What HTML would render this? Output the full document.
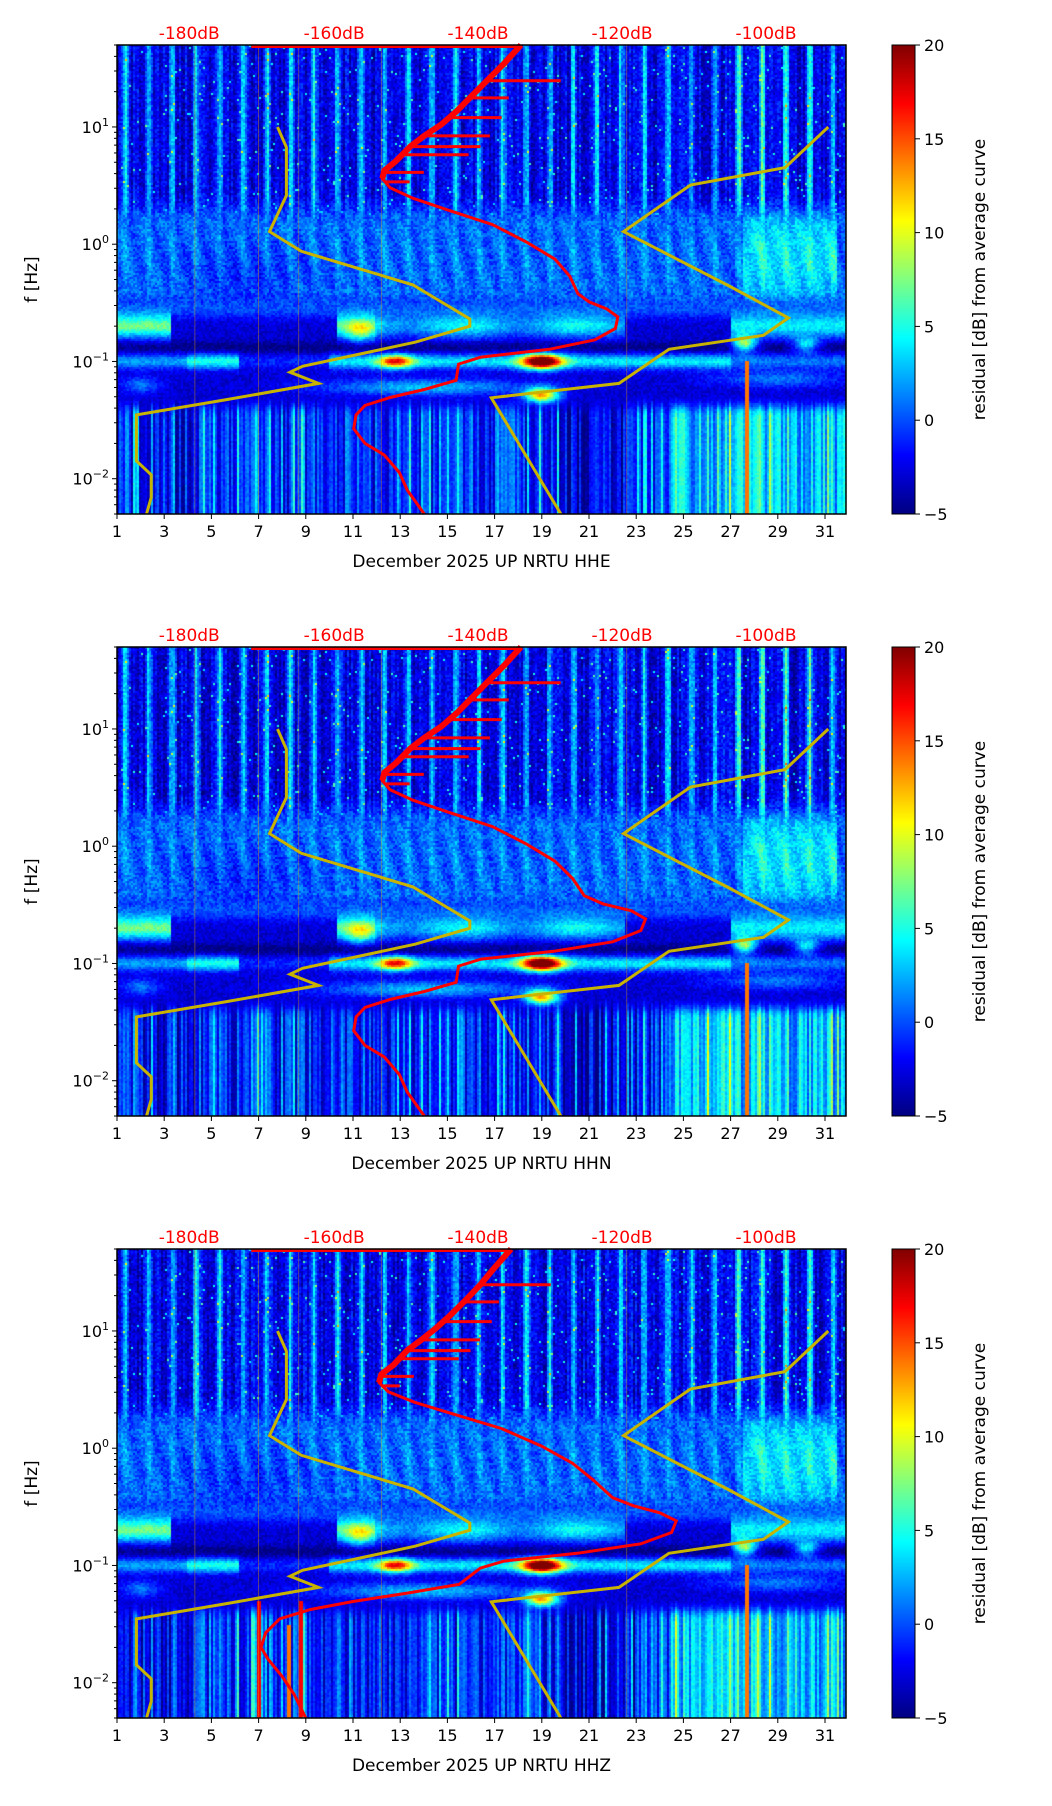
<!DOCTYPE html>
<html><head><meta charset="utf-8"><style>
body{margin:0;background:#fff;width:1052px;height:1806px;position:relative;overflow:hidden;font-family:"DejaVu Sans","Liberation Sans",sans-serif}
canvas{position:absolute}
svg{position:absolute;left:0;top:0;font-family:"DejaVu Sans","Liberation Sans",sans-serif}
</style></head><body>
<canvas id="c0" width="729" height="469" style="left:117px;top:45px"></canvas>
<canvas id="c1" width="729" height="469" style="left:117px;top:647px"></canvas>
<canvas id="c2" width="729" height="469" style="left:117px;top:1249px"></canvas>
<svg id="ov" width="1052" height="1806"></svg>
<script>
// ---- data ----
const channels = ["HHE","HHN","HHZ"];
const xTicks = [1,3,5,7,9,11,13,15,17,19,21,23,25,27,29,31];
const yTicksExp = [-2,-1,0,1];
const cbTicks = [-5,0,5,10,15,20];
const dbLabels = ["-180dB","-160dB","-140dB","-120dB","-100dB"];
const dbLabelDays = [4.06,10.2,16.3,22.4,28.5];
const yellowLeftDay = [7.80,8.18,8.18,7.46,8.81,13.54,15.95,15.95,13.63,8.86,8.33,9.54,5.58,1.82,1.82,1.82,2.45,2.45,2.25];
const yellowLeftF = [10,6.7,2.6,1.28,0.87,0.45,0.23,0.20,0.146,0.091,0.081,0.065,0.047,0.035,0.022,0.0142,0.0108,0.0069,0.005];
const yellowRightDay = [31.14,29.31,25.30,22.46,26.94,29.45,28.39,24.39,22.27,16.86,19.81];
const yellowRightF = [10,4.5,3.2,1.28,0.44,0.235,0.167,0.127,0.065,0.049,0.005];
const redF = [50,34.7,24.8,17.7,13.5,10.5,8.4,6.84,5.09,4.26,3.63,3.03,2.47,1.97,1.47,1.04,0.745,0.531,0.378,0.322,0.281,0.240,0.191,0.153,0.127,0.109,0.095,0.069,0.0577,0.0493,0.0421,0.0351,0.0267,0.0200,0.0159,0.0113,0.0080,0.005];
const redDayHHE = [18.12,17.4,16.67,15.95,15.37,14.74,14.02,13.44,12.81,12.33,12.24,12.57,13.54,14.98,16.91,18.36,19.56,20.19,20.53,21.01,21.74,22.22,22.12,21.25,19.32,16.43,15.47,15.37,14.02,12.57,11.51,11.13,11.03,11.51,12.33,12.96,13.3,14.02];
const redDayHHN = [18.12,17.4,16.67,15.95,15.37,14.74,14.02,13.44,12.81,12.33,12.24,12.57,13.54,14.98,16.91,18.36,19.56,20.3,20.8,21.6,22.8,23.4,23.2,22.0,19.5,16.43,15.47,15.37,14.02,12.57,11.51,11.13,11.03,11.51,12.33,12.96,13.3,14.02];
const redDayHHZ = [17.7,17.0,16.4,15.7,15.1,14.5,13.9,13.3,12.7,12.2,12.1,12.5,13.6,15.2,17.3,19.0,20.3,21.2,22.0,22.9,24.0,24.7,24.5,23.2,20.5,17.4,16.4,15.5,13.2,11.0,9.2,7.9,7.3,7.1,7.4,8.0,8.5,9.0];
const redSpikeF = [24.8,17.7,12.0,8.4,6.8,5.8,4.1,3.4];
const redSpikeEnd = [19.8,17.6,17.3,16.8,16.4,15.9,14.0,13.4];

// ---- axes ----
const L=117,W=729,H=469,tops=[45,647,1249];
const PPD=23.6;
const D0=1,D1=1+W/PPD, LF0=Math.log10(0.005), LF1=Math.log10(50);
const xs=d=>L+(d-D0)/(D1-D0)*W;
const ys=(f,T)=>T+H-(Math.log10(f)-LF0)/(LF1-LF0)*H;

// ---- spectrogram texture ----
function h(a,b){let x=Math.sin(a*127.1+b*311.7)*43758.5453;return x-Math.floor(x);}
function g(x,c,s){return Math.exp(-((x-c)*(x-c))/(2*s*s));}
function blob(d,l,cd,cl,sd,sl){return g(d,cd,sd)*g(l,cl,sl);}
function ss(x,a,b){let t=Math.max(0,Math.min(1,(x-a)/(b-a)));return t*t*(3-2*t);}
function field(d,l,col,row,p){
  const colN=h(col,7+p), colN2=h(col*3.1,2), rn=h(col,row);
  const dayStripe=Math.pow(Math.max(0,Math.cos(2*Math.PI*(d-0.35))),3);
  let hf=-2.5+dayStripe*6+(colN-0.5)*3+(rn-0.5)*3+(rn>0.985?6:0)+(d>27&&d<31?dayStripe*3:0);
  let mf=0.5+(rn-0.5)*3+dayStripe*1.5+Math.sin(d*6.3+l*9)*0.8+(d>27.5&&d<31.5?3.5*g(l,-0.1,0.3):0)-1.5*g(d,6.5,2)*g(l,-0.3,0.2);
  let bv=-3+(rn-0.5)*2;
  const b1=g(l,-0.70,0.07);
  let a1=4;
  if(d<3.3)a1=8; else if(d<10.3)a1=-2; else if(d<11.9)a1=7; else if(d<22.5)a1=4+1.5*Math.sin(d*1.3); else if(d<27)a1=-2; else a1=5;
  bv+=b1*(a1+2)+g(l,-0.55,0.06)*3;
  bv+=g(l,-0.88,0.035)*-2;
  const b2=g(l,-1.0,0.045);
  let a2=3;
  if(d<4)a2=3; else if(d<6.2)a2=6; else if(d<10)a2=0; else if(d<27)a2=5; else a2=2;
  bv+=b2*(a2+2);
  bv+=blob(d,l,12.8,-1.0,0.5,0.04)*14+blob(d,l,19.0,-1.0,0.6,0.045)*22+blob(d,l,27.6,-0.85,0.35,0.05)*12+blob(d,l,30.2,-0.86,0.4,0.045)*8+blob(d,l,11.3,-0.74,0.4,0.07)*6;
  bv+=blob(d,l,19.0,-1.3,0.5,0.05)*18+blob(d,l,14,-1.22,3,0.05)*6+blob(d,l,2,-1.2,0.6,0.05)*4+blob(d,l,29,-1.15,2,0.05)*4;
  let lf=-4+colN*6+(colN2>0.85?4:0)+(d>24.5?4:0)-(d>1.5&&d<4.5?1:0)+(rn-0.5)*1.5-(d>19.8&&d<23?2:0);
  lf=lf*ss(-l,1.2,1.5)+(-3)*(1-ss(-l,1.2,1.5));
  const wH=ss(l,0.15,0.45), wL=1-ss(l,-1.45,-1.25), wB=(1-ss(l,-0.6,-0.4))*(1-wL);
  const wM=Math.max(0,1-wH-wB-wL);
  let v=hf*wH+mf*wM+bv*wB+lf*wL;
  if(Math.abs(d-27.7)<0.06 && l<-1.0)v=14;
  if(p===2 && ((Math.abs(d-7.0)<0.06)||(Math.abs(d-8.8)<0.12)) && l<-1.3)v=17;
  if(p===2 && Math.abs(d-8.3)<0.1 && l<-1.5)v=14;
  return v;
}
function jet(t){t=Math.max(0,Math.min(1,t));const c=x=>Math.max(0,Math.min(1,x));
  return [c(1.5-Math.abs(4*t-3))*255,c(1.5-Math.abs(4*t-2))*255,c(1.5-Math.abs(4*t-1))*255];}
for(let p=0;p<3;p++){
  const cv=document.getElementById('c'+p),ctx=cv.getContext('2d');
  const img=ctx.createImageData(W,H);
  const cw=2,rh=2;
  for(let col=0;col<W/cw;col++){
    const d=D0+(col*cw+1)/W*(D1-D0);
    for(let row=0;row<H/rh;row++){
      const l=LF1-(row*rh+1)/H*(LF1-LF0);
      const v=field(d,l,col,row,p);
      const c=jet((v+5)/25);
      for(let dx=0;dx<cw;dx++)for(let dy=0;dy<rh;dy++){
        const x=col*cw+dx,y=row*rh+dy; if(x>=W||y>=H)continue;
        const i=(y*W+x)*4; img.data[i]=c[0];img.data[i+1]=c[1];img.data[i+2]=c[2];img.data[i+3]=255;}
    }
  }
  ctx.putImageData(img,0,0);
}

// ---- overlay ----
const NS='http://www.w3.org/2000/svg',svg=document.getElementById('ov');
function el(tag,attrs,parent,text){const e=document.createElementNS(NS,tag);for(const k in attrs)e.setAttribute(k,attrs[k]);if(text!==undefined)e.textContent=text;(parent||svg).appendChild(e);return e;}
const redDays=[redDayHHE,redDayHHN,redDayHHZ];
const defs=el('defs',{});
const lg=el('linearGradient',{id:'jetg',x1:0,y1:1,x2:0,y2:0},defs);
[[0,'#000080'],[0.125,'#0000ff'],[0.375,'#00ffff'],[0.625,'#ffff00'],[0.875,'#ff0000'],[1,'#800000']].forEach(s=>el('stop',{offset:s[0],'stop-color':s[1]},lg));
for(let p=0;p<3;p++){
  const T=tops[p];
  const gp=el('g',{});
  
  
  const thinDays=[4.3,7.0,8.7,12.2,22.6];
  thinDays.forEach(d=>{
    const tl=el('line',{x1:xs(d),y1:T,x2:xs(d),y2:T+H,stroke:'#e0a000','stroke-width':0.8,'stroke-opacity':0.5},gp);
    
    
  });
  [[yellowLeftDay,yellowLeftF],[yellowRightDay,yellowRightF]].forEach((c,i)=>{
    const pts=c[0].map((d,j)=>xs(d).toFixed(1)+','+ys(c[1][j],T).toFixed(1)).join(' ');
    const pl=el('polyline',{points:pts,fill:'none',stroke:'#c8b400','stroke-width':3},gp);
    
    
  });
  const rd=redDays[p];
  const topEnd=rd[0];
  const tl=el('line',{x1:xs(6.69),y1:T+1.5,x2:xs(topEnd),y2:T+1.5,stroke:'#ff0000','stroke-width':3},gp);
  
  
  for(let k=0;k<redSpikeF.length;k++){
    const f=redSpikeF[k];
    let j=0;while(j<redF.length-1&&redF[j+1]>f)j++;
    const t=(Math.log(f)-Math.log(redF[j]))/(Math.log(redF[j+1])-Math.log(redF[j]));
    const d=rd[j]+(rd[j+1]-rd[j])*t;
    const sp=el('line',{x1:xs(d),y1:ys(f,T),x2:xs(redSpikeEnd[k]+(rd[0]-18.12)),y2:ys(f,T),stroke:'#ff0000','stroke-width':3},gp);
    
    
  }
  const thick=rd.slice(0,11).map((d,j)=>xs(d).toFixed(1)+','+ys(redF[j],T).toFixed(1)).join(' ');
  const th=el('polyline',{points:thick,fill:'none',stroke:'#ff0000','stroke-width':6,'stroke-linejoin':'round'},gp);
  
  
  const pts=rd.map((d,j)=>xs(d).toFixed(1)+','+ys(redF[j],T).toFixed(1)).join(' ');
  const rc=el('polyline',{points:pts,fill:'none',stroke:'#ff0000','stroke-width':3},gp);
  
  
  const fr=el('rect',{x:L,y:T,width:W,height:H,fill:'none',stroke:'#000','stroke-width':1.5},gp);
  
  
  xTicks.forEach(d=>{
    el('line',{x1:xs(d),y1:T+H,x2:xs(d),y2:T+H+5,stroke:'#000','stroke-width':1},gp);
    const t=el('text',{x:xs(d),y:T+H+23,'text-anchor':'middle','font-size':16},gp,d);
    
    
  });
  const xl=el('text',{x:L+W/2,y:T+H+53,'text-anchor':'middle','font-size':17},gp,'December 2025 UP NRTU  '+channels[p]);
  
  
  for(let e=-3;e<=1;e++)for(let m=1;m<10;m++){
    const f=m*Math.pow(10,e); if(f<0.005||f>50)continue;
    el('line',{x1:L,y1:ys(f,T),x2:L-(m===1?5:3),y2:ys(f,T),stroke:'#000','stroke-width':1},gp);
  }
  yTicksExp.forEach(e=>{
    const t=el('text',{x:L-8,y:ys(Math.pow(10,e),T)+6,'text-anchor':'end','font-size':16},gp);
    
    
    el('tspan',{},t,'10');
    el('tspan',{dy:-7,'font-size':11},t,e<0?'\u2212'+(-e):String(e));
  });
  const yl=el('text',{x:37,y:T+H/2,'text-anchor':'middle','font-size':17,transform:'rotate(-90 37 '+(T+H/2)+')'},gp,'f [Hz]');
  
  
  dbLabels.forEach((s,i)=>{
    const t=el('text',{x:xs(dbLabelDays[i]),y:T-6,'text-anchor':'middle','font-size':17,fill:'#ff0000'},gp,s);
    
    
  });
  const cb=el('rect',{x:892,y:T,width:23,height:H,fill:'url(#jetg)',stroke:'#000','stroke-width':1},gp);
  
  
  cbTicks.forEach(v=>{
    const y=T+H-(v+5)/25*H;
    el('line',{x1:915,y1:y,x2:920,y2:y,stroke:'#000','stroke-width':1},gp);
    const t=el('text',{x:924,y:y+6,'font-size':16},gp,v<0?'\u2212'+(-v):String(v));
    
    
  });
  const cl=el('text',{x:985,y:T+H/2,'text-anchor':'middle','font-size':17,transform:'rotate(-90 985 '+(T+H/2)+')'},gp,'residual [dB] from average curve');
  
  
}
</script>
</body></html>
